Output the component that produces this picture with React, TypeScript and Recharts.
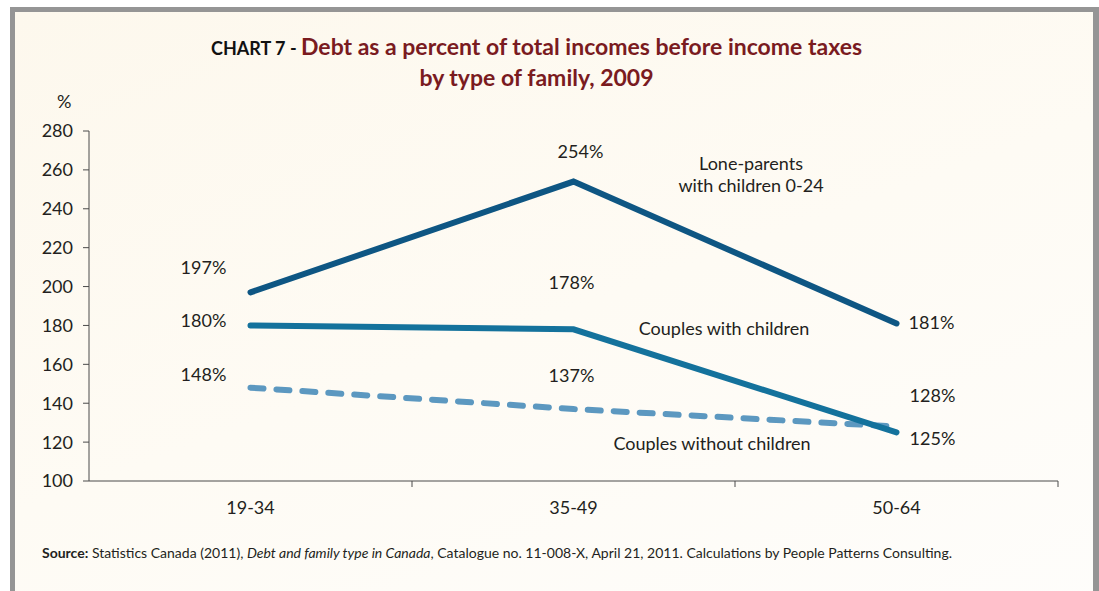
import { LabelList, Line, LineChart, XAxis, YAxis } from 'recharts';

const ageGroups = ['19-34', '35-49', '50-64'];
const loneParents = [197, 254, 181];
const couplesWithChildren = [180, 178, 125];
const couplesWithoutChildren = [148, 137, 128];
const yTicks = [100, 120, 140, 160, 180, 200, 220, 240, 260, 280];

const data = ageGroups.map((age, i) => ({
  age,
  lone: loneParents[i],
  withKids: couplesWithChildren[i],
  noKids: couplesWithoutChildren[i],
}));

const W = 1099;
const H = 591;
const PLOT_LEFT = 89;
const PLOT_RIGHT = 1058;
const PLOT_TOP = 131;
const AXIS_Y = 481;
const HALF_BAND = (PLOT_RIGHT - PLOT_LEFT) / ageGroups.length / 2;

const FONT = 'Lato, "Open Sans", sans-serif';
const INK = '#231f20';
const AXIS = '#4a4a4a';

// label offsets (dx, dy) from each point, per series
const labelOffsets: Record<string, [number, number][]> = {
  lone: [[-47, -25], [7, -31], [35, -2]],
  withKids: [[-47, -5], [-2, -47], [36, 6]],
  noKids: [[-47, -14], [-2, -34], [36, -32]],
};

function makeLabel(key: string) {
  return (props: any) => {
    const { x, y, value, index } = props;
    const [dx, dy] = labelOffsets[key][index];
    return (
      <text
        x={x + dx}
        y={y + dy}
        textAnchor="middle"
        dominantBaseline="central"
        fontFamily={FONT}
        fontSize={18}
        fill={INK}
      >
        {value}%
      </text>
    );
  };
}

function AgeTick(props: any) {
  const { x, payload } = props;
  return (
    <g>
      <line x1={x + HALF_BAND} x2={x + HALF_BAND} y1={AXIS_Y} y2={AXIS_Y + 6} stroke={AXIS} />
      <text
        x={x}
        y={AXIS_Y + 26}
        textAnchor="middle"
        dominantBaseline="central"
        fontFamily={FONT}
        fontSize={18}
        fill={INK}
      >
        {payload.value}
      </text>
    </g>
  );
}

const note: React.CSSProperties = {
  position: 'absolute',
  fontFamily: FONT,
  fontSize: 18,
  color: INK,
  textAlign: 'center',
  whiteSpace: 'nowrap',
  transform: 'translate(-50%, -50%)',
  lineHeight: '22px',
};

export default function App() {
  return (
    <div style={{ position: 'absolute', left: 0, top: 0, width: W, height: H, background: '#fff', overflow: 'hidden' }}>
      <div
        style={{
          position: 'absolute',
          left: 10,
          top: 7,
          width: W - 10 - 11,
          height: H + 20,
          borderLeft: '5px solid #959595',
          borderTop: '5px solid #959595',
          borderRight: '6px solid #959595',
          background: 'linear-gradient(160deg, #fdf8ed 0%, #fefbf4 50%, #fefdfb 100%)',
        }}
      />
      <div
        style={{
          position: 'absolute',
          left: -13,
          top: 32,
          width: W,
          textAlign: 'center',
          fontFamily: FONT,
          fontWeight: 700,
          color: '#7a1b1f',
          fontSize: 23,
          lineHeight: '29px',
        }}
      >
        <span style={{ color: '#111', fontSize: 18 }}>CHART 7 - </span>
        Debt as a percent of total incomes before income taxes
        <br />
        by type of family, 2009
      </div>
      <div style={{ position: 'absolute', left: 57, top: 90, fontFamily: FONT, fontSize: 18, color: INK }}>%</div>

      <div style={{ position: 'absolute', left: 0, top: 0 }}>
        <LineChart
          width={W}
          height={H}
          data={data}
          margin={{ top: PLOT_TOP, right: W - PLOT_RIGHT, bottom: H - AXIS_Y - 40, left: 29 }}
        >
          <XAxis
            dataKey="age"
            height={40}
            padding={{ left: HALF_BAND, right: HALF_BAND }}
            axisLine={{ stroke: AXIS }}
            tickLine={false}
            tick={<AgeTick />}
            interval={0}
          />
          <YAxis
            width={60}
            domain={[100, 280]}
            ticks={yTicks}
            interval={0}
            tickSize={6}
            tickMargin={10}
            axisLine={{ stroke: AXIS }}
            tickLine={{ stroke: AXIS }}
            tick={{ fill: INK, fontSize: 18, fontFamily: FONT }}
          />
          <Line
            type="linear"
            dataKey="noKids"
            stroke="#5c98c0"
            strokeWidth={6}
            strokeLinecap="round"
            strokeDasharray="13 13"
            dot={false}
            isAnimationActive={false}
          >
            <LabelList dataKey="noKids" content={makeLabel('noKids')} />
          </Line>
          <Line
            type="linear"
            dataKey="withKids"
            stroke="#14729c"
            strokeWidth={6}
            strokeLinecap="round"
            dot={false}
            isAnimationActive={false}
          >
            <LabelList dataKey="withKids" content={makeLabel('withKids')} />
          </Line>
          <Line
            type="linear"
            dataKey="lone"
            stroke="#0e5683"
            strokeWidth={6}
            strokeLinecap="round"
            dot={false}
            isAnimationActive={false}
          >
            <LabelList dataKey="lone" content={makeLabel('lone')} />
          </Line>
        </LineChart>
      </div>

      <div style={{ ...note, left: 751, top: 174 }}>
        Lone-parents
        <br />
        with children 0-24
      </div>
      <div style={{ ...note, left: 724, top: 328 }}>Couples with children</div>
      <div style={{ ...note, left: 712, top: 443 }}>Couples without children</div>

      <div
        style={{
          position: 'absolute',
          left: 42,
          top: 544,
          fontFamily: FONT,
          fontSize: 14,
          color: INK,
          whiteSpace: 'nowrap',
        }}
      >
        <b>Source:</b> Statistics Canada (2011), <i>Debt and family type in Canada</i>, Catalogue no. 11-008-X, April 21,
        2011. Calculations by People Patterns Consulting.
      </div>
    </div>
  );
}
